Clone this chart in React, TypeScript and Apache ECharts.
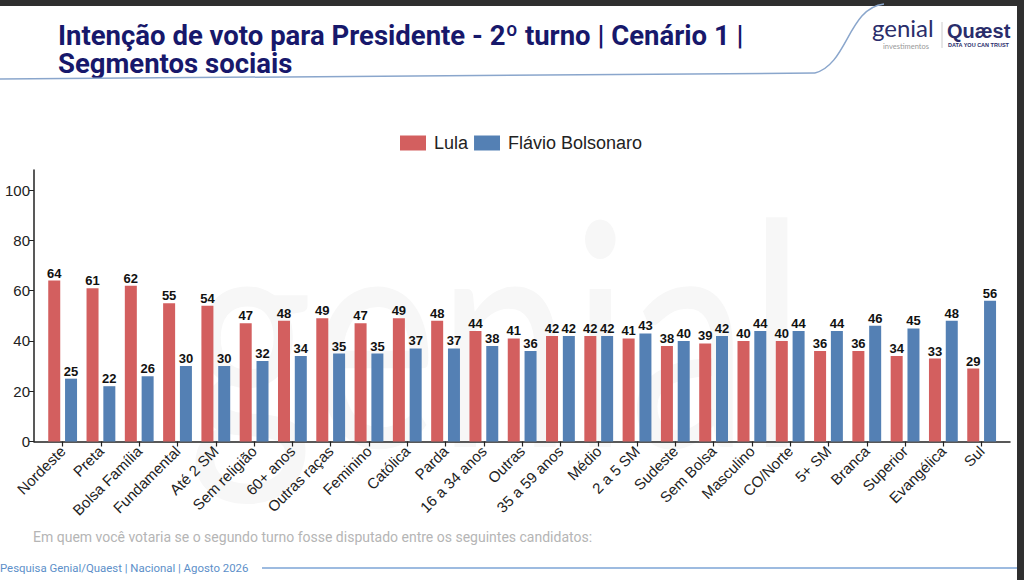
import React, { useEffect, useRef } from "react";
import * as echarts from "echarts";

const categories = [
  "Nordeste", "Preta", "Bolsa Família", "Fundamental", "Até 2 SM", "Sem religião",
  "60+ anos", "Outras raças", "Feminino", "Católica", "Parda", "16 a 34 anos",
  "Outras", "35 a 59 anos", "Médio", "2 a 5 SM", "Sudeste", "Sem Bolsa",
  "Masculino", "CO/Norte", "5+ SM", "Branca", "Superior", "Evangélica", "Sul",
];
const lula = [64, 61, 62, 55, 54, 47, 48, 49, 47, 49, 48, 44, 41, 42, 42, 41, 38, 39, 40, 40, 36, 36, 34, 33, 29];
const flavio = [25, 22, 26, 30, 30, 32, 34, 35, 35, 37, 37, 38, 36, 42, 42, 43, 40, 42, 44, 44, 44, 46, 45, 48, 56];
const yTicks = [0, 20, 40, 60, 80, 100];
const seriesNames = ["Lula", "Flávio Bolsonaro"];
const titleLines = ["Intenção de voto para Presidente - 2º turno | Cenário 1 |", "Segmentos sociais"];
const questionText = "Em quem você votaria se o segundo turno fosse disputado entre os seguintes candidatos:";
const sourceText = "Pesquisa Genial/Quaest | Nacional | Agosto 2026";

const RED = "#d35f5f";
const BLUE = "#5480b4";
const FONT = "Liberation Sans";

export default function App() {
  const ref = useRef<HTMLDivElement>(null);
  useEffect(() => {
    if (!ref.current) return;
    const chart = echarts.init(ref.current, null, { renderer: "svg" });
    const labelStyle = {
      show: true,
      position: "top",
      distance: 1,
      fontSize: 13,
      fontWeight: "bold",
      color: "#111",
      fontFamily: FONT,
    };
    chart.setOption({
      animation: false,
      backgroundColor: "#ffffff",
      textStyle: { fontFamily: FONT },
      legend: {
        data: seriesNames,
        left: 395,
        top: 129,
        icon: "rect",
        itemWidth: 26,
        itemHeight: 15,
        itemGap: 6,
        textStyle: { fontSize: 18, color: "#222", fontFamily: FONT, padding: [0, 0, 0, 3] },
      },
      grid: [
        { left: 43.5, right: 23.2, top: 170, bottom: 138.5 },
        { left: 34, right: 14, top: 170, bottom: 138.5 },
      ],
      xAxis: [
        {
          type: "category",
          gridIndex: 0,
          data: categories,
          axisLine: { show: false },
          axisTick: { show: true, alignWithLabel: true, length: 5, lineStyle: { color: "#222", width: 1.2 } },
          axisLabel: { rotate: 45, interval: 0, fontSize: 15, color: "#222", fontFamily: FONT, margin: 7 },
        },
        {
          type: "value",
          gridIndex: 1,
          min: 0,
          max: 1,
          axisLine: { show: true, lineStyle: { color: "#222", width: 1.5 } },
          axisTick: { show: false },
          axisLabel: { show: false },
          splitLine: { show: false },
        },
      ],
      yAxis: [
        {
          type: "value",
          gridIndex: 0,
          min: 0,
          max: 108,
          offset: 9.5,
          axisLine: { show: true, lineStyle: { color: "#222", width: 1.5 } },
          axisTick: { show: true, length: 5, customValues: yTicks, lineStyle: { color: "#222" } },
          axisLabel: { customValues: yTicks, fontSize: 15, color: "#222", fontFamily: FONT, margin: 4 },
          splitLine: { show: false },
        },
        { type: "value", gridIndex: 1, min: 0, max: 1, show: false },
      ],
      series: [
        {
          name: seriesNames[0],
          type: "bar",
          xAxisIndex: 0,
          yAxisIndex: 0,
          data: lula,
          barWidth: 12,
          barGap: "40%",
          itemStyle: { color: RED },
          label: labelStyle,
          z: 3,
        },
        {
          name: seriesNames[1],
          type: "bar",
          xAxisIndex: 0,
          yAxisIndex: 0,
          data: flavio,
          barWidth: 12,
          barGap: "40%",
          itemStyle: { color: BLUE },
          label: labelStyle,
          z: 3,
        },
      ],
      graphic: [
        // watermark
        {
          type: "text",
          x: 188,
          y: 326,
          scaleY: 1.3,
          z: 0,
          silent: true,
          style: {
            text: "genial",
            fontSize: 240,
            fontFamily: "Lato",
            fill: "#f7f7f7",
            verticalAlign: "middle",
          },
        },
        // frame
        { type: "rect", shape: { x: 0, y: 0, width: 1024, height: 6 }, style: { fill: "#2f2f2f" }, z: 10 },
        { type: "rect", shape: { x: 1017, y: 0, width: 7, height: 580 }, style: { fill: "#2f2f2f" }, z: 10 },
        // title (two lines)
        {
          type: "text",
          x: 58,
          y: 49.5,
          z: 10,
          style: {
            text: titleLines.join("\n"),
            fontSize: 27.5,
            lineHeight: 28,
            fontWeight: "bold",
            fontFamily: "Roboto",
            fill: "#17186b",
            verticalAlign: "middle",
          },
        },
        // header line + curve
        {
          type: "line",
          z: 10,
          shape: { x1: 0, y1: 79, x2: 815, y2: 73 },
          style: { stroke: "#8aa6cc", lineWidth: 1.5 },
        },
        {
          type: "bezierCurve",
          z: 10,
          shape: { x1: 815, y1: 73, cpx1: 848, cpy1: 64, cpx2: 848, cpy2: 8, x2: 884, y2: 4 },
          style: { stroke: "#8aa6cc", lineWidth: 1.5, fill: "none" },
        },
        // logo
        {
          type: "text",
          x: 872,
          y: 27,
          z: 10,
          style: { text: "genial", fontSize: 24, fontFamily: "Lato", fill: "#2a2d6b", verticalAlign: "middle" },
        },
        {
          type: "text",
          x: 883,
          y: 46,
          z: 10,
          style: { text: "investimentos", fontSize: 7.5, fontFamily: "Lato", fill: "#9a9a9a", verticalAlign: "middle" },
        },
        {
          type: "line",
          z: 10,
          shape: { x1: 942, y1: 22, x2: 942, y2: 48 },
          style: { stroke: "#cccccc", lineWidth: 1 },
        },
        {
          type: "text",
          x: 947,
          y: 31,
          z: 10,
          style: { text: "Quæst", fontSize: 20, fontWeight: "bold", fontFamily: FONT, fill: "#2a2d6b", verticalAlign: "middle" },
        },
        {
          type: "text",
          x: 948,
          y: 45,
          z: 10,
          style: { text: "DATA YOU CAN TRUST", fontSize: 5.5, fontWeight: "bold", fontFamily: FONT, fill: "#2a2d6b", verticalAlign: "middle" },
        },
        // footer
        {
          type: "text",
          x: 33,
          y: 537,
          z: 10,
          style: { text: questionText, fontSize: 14, fontFamily: "Roboto", fill: "#b5b5b5", verticalAlign: "middle" },
        },
        {
          type: "text",
          x: 0,
          y: 568,
          z: 10,
          style: { text: sourceText, fontSize: 11.4, fontFamily: "Roboto", fill: "#5d8fc9", verticalAlign: "middle" },
        },
        {
          type: "line",
          z: 10,
          shape: { x1: 262, y1: 568, x2: 1017, y2: 568 },
          style: { stroke: "#9dbbe0", lineWidth: 2 },
        },
      ],
    });
    return () => chart.dispose();
  }, []);
  return (
    <div
      ref={ref}
      style={{ position: "absolute", left: 0, top: 0, width: 1024, height: 580 }}
    />
  );
}
